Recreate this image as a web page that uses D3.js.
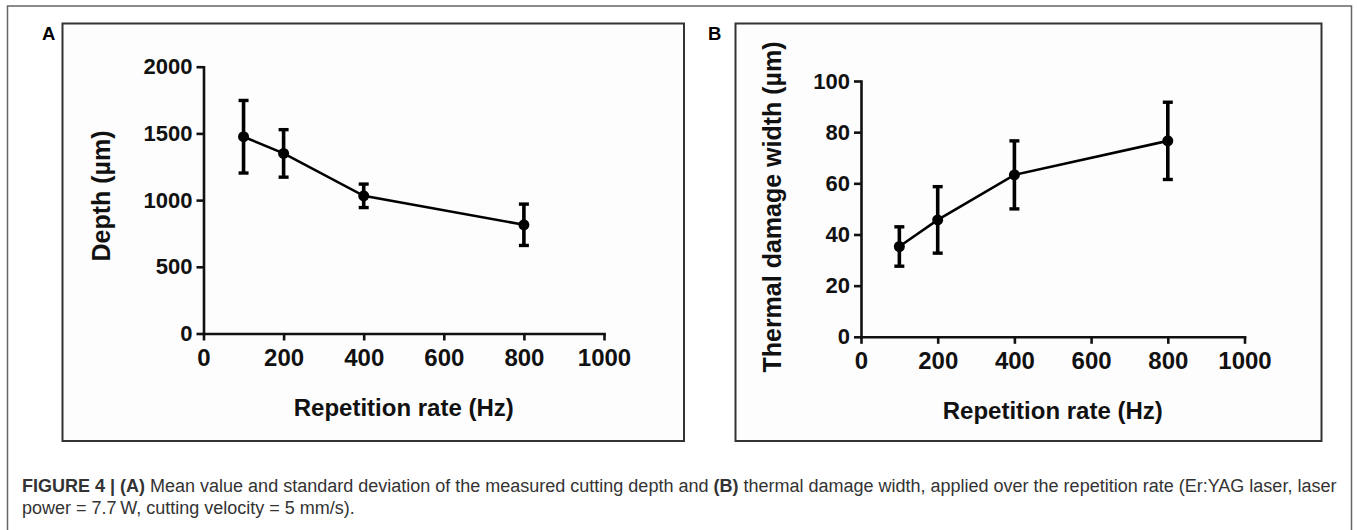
<!DOCTYPE html>
<html>
<head>
<meta charset="utf-8">
<script src="https://cdn.jsdelivr.net/npm/d3@7"></script>
<style>
  body { margin: 0; background: #fff; }
  svg { display: block; font-family: "Liberation Sans", Arial, sans-serif; }
  .axis path, .axis line { stroke: #111; stroke-width: 2.6; }
  .axis text { font-weight: bold; fill: #111; }
</style>
</head>
<body>
<div id="fig"></div>
<script>
// data
var rates = [100, 200, 400, 800];
var depthMean = [1475, 1350, 1032, 815];
var depthSd = [272, 178, 88, 155];
var damageMean = [35.3, 45.7, 63.3, 76.6];
var damageSd = [7.7, 13, 13.3, 15.1];
var xTicks = [0, 200, 400, 600, 800, 1000];
var depthTicks = [0, 500, 1000, 1500, 2000];
var damageTicks = [0, 20, 40, 60, 80, 100];

var width = 1357, height = 530;

var svg = d3.select("#fig").append("svg")
    .attr("width", width)
    .attr("height", height);

svg.append("rect")
    .attr("width", width).attr("height", height)
    .attr("fill", "#fff");

// outer figure frame (bottom runs off the page)
svg.append("rect")
    .attr("x", 7.5).attr("y", 6)
    .attr("width", 1344).attr("height", 560)
    .attr("fill", "none")
    .attr("stroke", "#666")
    .attr("stroke-width", 1.5);

function panel(opt) {
    var g = svg.append("g");

    g.append("rect")
        .attr("x", opt.box[0]).attr("y", opt.box[1])
        .attr("width", opt.box[2]).attr("height", opt.box[3])
        .attr("fill", "#fdfdfd")
        .attr("stroke", "#333")
        .attr("stroke-width", 2);

    g.append("text")
        .attr("x", opt.letterX).attr("y", 39.5)
        .attr("font-size", 18.5)
        .attr("font-weight", "bold")
        .text(opt.letter);

    var x = d3.scaleLinear().domain([0, 1000]).range(opt.xr);
    var y = d3.scaleLinear().domain([0, opt.yMax]).range(opt.yr);

    g.append("g")
        .attr("class", "axis")
        .attr("transform", "translate(0," + opt.yr[0] + ")")
        .call(d3.axisBottom(x).tickValues(xTicks).tickFormat(d3.format("d"))
            .tickSize(7).tickSizeOuter(0).tickPadding(8))
        .selectAll("text").attr("font-size", 24);

    g.append("g")
        .attr("class", "axis")
        .attr("transform", "translate(" + opt.xr[0] + ",0)")
        .call(d3.axisLeft(y).tickValues(opt.yTicks).tickFormat(d3.format("d"))
            .tickSize(7).tickSizeOuter(0).tickPadding(4))
        .selectAll("text").attr("font-size", 22);

    g.selectAll(".axis .domain").attr("stroke-linecap", "square");

    // axis titles
    g.append("text")
        .attr("x", (opt.xr[0] + opt.xr[1]) / 2)
        .attr("y", opt.yr[0] + 82)
        .attr("text-anchor", "middle")
        .attr("font-size", 24)
        .attr("font-weight", "bold")
        .attr("fill", "#111")
        .text("Repetition rate (Hz)");

    g.append("text")
        .attr("transform", "translate(" + opt.titleX + "," + opt.titleY + ") rotate(-90)")
        .attr("text-anchor", "middle")
        .attr("font-size", 25)
        .attr("font-weight", "bold")
        .attr("fill", "#111")
        .text(opt.title);

    var pts = rates.map(function (r, i) {
        return { r: r, m: opt.mean[i], s: opt.sd[i] };
    });

    var line = d3.line()
        .x(function (d) { return x(d.r); })
        .y(function (d) { return y(d.m); });

    g.append("path")
        .datum(pts)
        .attr("d", line)
        .attr("fill", "none")
        .attr("stroke", "#000")
        .attr("stroke-width", 2.6);

    var bars = g.selectAll(".err")
        .data(pts)
        .enter()
        .append("g")
        .attr("class", "err");

    bars.append("line")
        .attr("x1", function (d) { return x(d.r); })
        .attr("x2", function (d) { return x(d.r); })
        .attr("y1", function (d) { return y(d.m - d.s); })
        .attr("y2", function (d) { return y(d.m + d.s); })
        .attr("stroke", "#000")
        .attr("stroke-width", 3.6);

    [-1, 1].forEach(function (k) {
        bars.append("line")
            .attr("x1", function (d) { return x(d.r) - 5; })
            .attr("x2", function (d) { return x(d.r) + 5; })
            .attr("y1", function (d) { return y(d.m + k * d.s); })
            .attr("y2", function (d) { return y(d.m + k * d.s); })
            .attr("stroke", "#000")
            .attr("stroke-width", 3.4);
    });

    bars.append("circle")
        .attr("cx", function (d) { return x(d.r); })
        .attr("cy", function (d) { return y(d.m); })
        .attr("r", 5.5)
        .attr("fill", "#000");
}

panel({
    letter: "A", letterX: 42,
    box: [62.5, 23.5, 621.5, 417.5],
    xr: [203.5, 604], yr: [333.5, 66.7],
    yMax: 2000, yTicks: depthTicks,
    mean: depthMean, sd: depthSd,
    title: "Depth (\u00b5m)", titleX: 110, titleY: 196
});

panel({
    letter: "B", letterX: 708,
    box: [735.5, 23.5, 586, 417.5],
    xr: [861, 1244.5], yr: [336.8, 81],
    yMax: 100, yTicks: damageTicks,
    mean: damageMean, sd: damageSd,
    title: "Thermal damage width (\u00b5m)", titleX: 781, titleY: 207
});

// caption
var cap = svg.append("g")
    .attr("font-size", 18)
    .attr("fill", "#333");

var l1 = cap.append("text").attr("x", 22).attr("y", 491.5);
l1.append("tspan").attr("font-weight", "bold").text("FIGURE 4 | (A)");
l1.append("tspan").text(" Mean value and standard deviation of the measured cutting depth and ");
l1.append("tspan").attr("font-weight", "bold").text("(B)");
l1.append("tspan").text(" thermal damage width, applied over the repetition rate (Er:YAG laser, laser");

cap.append("text").attr("x", 22).attr("y", 513.5)
    .text("power = 7.7\u2009W, cutting velocity = 5 mm/s).");
</script>
</body>
</html>
